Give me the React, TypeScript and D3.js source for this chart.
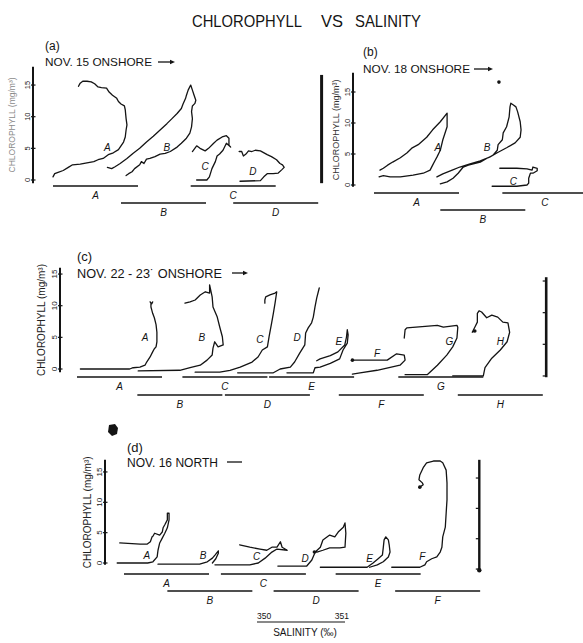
import React from "react";
import * as d3 from "d3";

type Pt = [number, number];

// Salinity is plotted in units of the 350–351 scale bar; every profile's
// range bar spans one unit. Chlorophyll is in mg m^-3.

// ---------- (a) NOV. 15 ONSHORE ----------
const aNames = ["A", "B", "C", "D"];
const aBarStart = [0, 0.8, 1.62, 2.12];
const aBarRow = [0, 1, 0, 1];
const aLabelAt: Pt[] = [[0.64, 5.1], [1.34, 5.2], [1.79, 2.1], [2.35, 1.3]];
const aCurveA: Pt[] = [[0.00,0.5],[0.02,1.0],[0.06,1.2],[0.12,1.5],[0.18,2.0],[0.23,2.4],[0.32,2.5],[0.40,2.7],[0.48,2.9],[0.53,3.2],[0.59,3.4],[0.65,4.0],[0.71,4.3],[0.77,4.8],[0.80,5.4],[0.83,6.0],[0.85,6.8],[0.86,7.9],[0.87,8.7],[0.86,9.7],[0.85,11.1],[0.84,11.7],[0.80,12.0],[0.77,12.4],[0.75,12.9],[0.70,13.4],[0.66,13.9],[0.63,14.5],[0.57,14.6],[0.53,14.7],[0.49,15.2],[0.45,15.5],[0.40,15.6],[0.35,15.6],[0.32,15.3],[0.30,14.8]];
const aCurveB: Pt[] = [[0.86,0.7],[0.89,1.0],[0.93,1.3],[0.96,1.8],[1.02,2.4],[1.04,2.9],[1.07,2.6],[1.10,3.3],[1.14,3.4],[1.20,3.7],[1.26,4.1],[1.32,4.2],[1.38,4.5],[1.46,5.2],[1.51,5.8],[1.57,6.6],[1.61,7.4],[1.63,8.4],[1.64,9.7],[1.63,10.8],[1.64,11.7],[1.67,12.1],[1.68,12.6],[1.66,13.4],[1.64,14.2],[1.62,15.0],[1.59,14.2],[1.57,13.4],[1.56,12.9],[1.53,12.0],[1.51,11.3],[1.46,10.5],[1.40,9.7],[1.34,8.9],[1.26,7.9],[1.18,6.9],[1.10,6.0],[1.02,5.0],[0.94,4.2],[0.87,3.4],[0.79,2.6],[0.73,2.1],[0.69,1.8],[0.64,2.0]];
const aCurveC: Pt[] = [[1.69,0.0],[1.81,0.0],[1.84,0.5],[1.87,1.8],[1.91,2.9],[1.93,3.8],[1.96,4.1],[2.00,4.7],[2.04,5.8],[2.09,5.2],[2.07,5.5],[2.07,6.6],[2.04,7.0],[1.99,6.8],[1.93,6.3],[1.89,5.8],[1.83,5.0],[1.79,4.6],[1.73,5.0],[1.69,5.4],[1.64,4.5]];
const aCurveD: Pt[] = [[2.20,-0.2],[2.44,-0.1],[2.48,0.5],[2.52,1.0],[2.59,1.0],[2.65,1.1],[2.69,1.6],[2.72,2.0],[2.70,2.4],[2.67,2.6],[2.63,3.2],[2.57,3.7],[2.52,4.0],[2.44,4.6],[2.38,4.7],[2.34,4.5],[2.30,4.6],[2.27,4.1],[2.24,3.8],[2.22,4.5],[2.19,4.5]];

// ---------- (b) NOV. 18 ONSHORE ----------
const bNames = ["A", "B", "C"];
const bBarStart = [0, 0.78, 1.51];
const bBarRow = [0, 1, 0];
const bLabelAt: Pt[] = [[0.75, 6.1], [1.33, 6.0], [1.64, 0.5]];
const bCurveA: Pt[] = [[0.06,1.3],[0.11,1.5],[0.19,1.3],[0.31,1.3],[0.46,1.6],[0.58,1.9],[0.66,2.4],[0.69,3.2],[0.72,4.0],[0.74,4.5],[0.78,5.6],[0.81,7.3],[0.86,9.4],[0.86,11.0],[0.86,11.6],[0.78,10.2],[0.69,8.9],[0.62,7.7],[0.52,6.5],[0.45,6.0],[0.39,5.2],[0.31,4.4],[0.22,3.7],[0.16,3.2],[0.11,2.7],[0.07,2.4]];
const bCurveB: Pt[] = [[0.78,0.2],[0.86,0.5],[0.93,1.1],[0.99,1.9],[1.05,2.9],[1.11,3.2],[1.25,3.7],[1.34,4.4],[1.40,4.8],[1.45,5.6],[1.46,6.5],[1.51,7.3],[1.52,8.4],[1.56,9.4],[1.59,11.0],[1.60,12.6],[1.61,13.2],[1.64,12.9],[1.67,12.6],[1.69,11.8],[1.72,10.2],[1.73,8.9],[1.72,7.7],[1.66,6.8],[1.56,6.0],[1.45,5.2],[1.36,4.5],[1.25,3.9],[1.13,3.4],[1.01,2.9],[0.92,2.4],[0.81,1.8],[0.74,1.3]];
const bCurveC: Pt[] = [[1.39,-0.2],[1.56,-0.2],[1.68,-0.2],[1.80,0.0],[1.82,0.3],[1.82,1.1],[1.84,1.9],[1.87,1.9],[1.92,2.3],[1.92,2.7],[1.87,2.9],[1.86,2.4],[1.80,2.6],[1.68,2.7],[1.48,2.7]];
const bDots: Pt[] = [[1.47, 16.6]];

// ---------- (c) NOV. 22 - 23 ONSHORE ----------
const cNames = ["A", "B", "C", "D", "E", "F", "G", "H"];
const cBarStart = [0, 0.71, 1.24, 1.74, 2.26, 3.08, 3.78, 4.48];
const cBarRow = [0, 1, 0, 1, 0, 1, 0, 1];
const cLabelAt: Pt[] = [[0.80,4.9],[1.47,4.9],[2.15,4.6],[2.59,4.9],[3.08,4.4],[3.53,2.5],[4.38,4.3],[4.98,4.3]];
const cCurveA: Pt[] = [[0.04,0.0],[0.62,0.0],[0.66,0.2],[0.74,0.3],[0.80,0.6],[0.82,1.1],[0.86,1.9],[0.89,2.7],[0.91,3.2],[0.93,3.5],[0.94,4.3],[0.94,4.9],[0.94,5.8],[0.93,7.0],[0.91,8.1],[0.89,8.8],[0.88,9.3],[0.87,9.8],[0.87,10.4],[0.86,10.6],[0.88,10.3],[0.89,10.6]];
const cCurveB: Pt[] = [[0.72,-0.3],[1.21,-0.2],[1.33,0.2],[1.45,0.6],[1.53,1.4],[1.59,2.2],[1.60,3.3],[1.62,4.3],[1.66,3.5],[1.72,3.8],[1.71,5.1],[1.68,6.6],[1.65,8.2],[1.60,9.8],[1.59,11.4],[1.56,13.3],[1.56,12.0],[1.51,12.2],[1.45,11.7],[1.39,10.9],[1.33,10.6],[1.27,10.4]];
const cCurveC: Pt[] = [[1.39,-0.5],[1.68,-0.5],[1.80,-0.2],[1.92,0.3],[2.06,1.1],[2.13,1.9],[2.18,3.0],[2.24,3.5],[2.26,5.1],[2.29,7.3],[2.31,8.8],[2.33,10.4],[2.35,12.2],[2.33,12.0],[2.27,11.7],[2.22,11.4],[2.21,10.9],[2.21,10.4]];
const cCurveD: Pt[] = [[1.89,-0.6],[2.31,-0.6],[2.39,0.0],[2.51,0.3],[2.56,1.1],[2.62,2.5],[2.68,3.8],[2.69,5.7],[2.72,6.5],[2.76,7.3],[2.78,8.2],[2.80,9.8],[2.82,11.2],[2.85,12.8]];
const cCurveE: Pt[] = [[2.47,-0.6],[2.78,-0.6],[2.80,0.2],[2.86,0.3],[2.98,0.9],[3.09,1.6],[3.13,3.0],[3.18,4.1],[3.19,5.4],[3.18,6.2],[3.17,5.0],[3.15,3.8],[3.07,2.7],[2.98,2.1],[2.86,1.6],[2.82,1.3]];
const cCurveF: Pt[] = [[3.24,1.4],[3.65,1.4],[3.76,2.4],[3.85,2.2],[3.86,1.4],[3.80,0.6],[3.53,-0.2],[3.33,-0.6],[3.24,-0.8]];
const cCurveG: Pt[] = [[3.86,-0.9],[4.12,-0.9],[4.24,0.6],[4.35,2.2],[4.42,3.5],[4.47,4.9],[4.48,6.6],[4.47,6.9],[4.31,6.6],[4.24,6.9],[3.88,6.5],[3.86,6.2],[3.85,4.9]];
const cCurveH: Pt[] = [[4.42,-1.1],[4.78,-1.1],[4.80,0.2],[4.88,1.7],[4.98,3.0],[5.06,4.3],[5.09,5.8],[5.07,7.3],[5.01,7.4],[4.95,8.2],[4.88,8.5],[4.82,8.1],[4.76,9.0],[4.73,9.2],[4.71,8.8],[4.71,7.4],[4.68,6.6],[4.65,5.8],[4.68,6.0]];
const cDots: Pt[] = [[3.24, 1.4], [4.68, 6.0]];

// ---------- (d) NOV. 16 NORTH ----------
const dNames = ["A", "B", "C", "D", "E", "F"];
const dBarStart = [0, 0.51, 1.14, 1.76, 2.49, 3.19];
const dBarRow = [0, 1, 0, 1, 0, 1];
const dLabelAt: Pt[] = [[0.27,1.3],[0.93,1.3],[1.56,1.0],[2.13,0.8],[2.89,0.8],[3.51,1.0]];
const dCurveA: Pt[] = [[-0.08,0.0],[0.28,0.0],[0.34,0.2],[0.39,1.0],[0.40,2.1],[0.42,3.3],[0.45,4.1],[0.48,4.9],[0.51,5.8],[0.53,7.1],[0.53,8.2],[0.51,8.2],[0.51,7.1],[0.48,6.3],[0.46,5.8],[0.45,5.1],[0.42,4.6],[0.36,4.9],[0.34,4.4],[0.33,4.3],[0.31,3.5],[0.27,3.1],[0.19,3.1],[-0.05,3.3]];
const dCurveB: Pt[] = [[0.40,-0.2],[0.89,-0.2],[0.98,0.2],[1.04,0.8],[1.07,1.3],[1.11,2.0],[1.11,1.6],[1.08,0.7],[1.04,0.0]];
const dCurveC: Pt[] = [[1.07,-0.3],[1.48,-0.3],[1.58,0.0],[1.66,0.8],[1.74,1.8],[1.80,2.3],[1.92,2.1],[1.86,2.6],[1.84,3.5],[1.80,2.6],[1.74,2.6],[1.68,2.1],[1.60,2.3],[1.48,2.6],[1.36,3.0]];
const dCurveD: Pt[] = [[1.81,-0.5],[2.15,-0.5],[2.21,0.5],[2.25,1.8],[2.31,2.6],[2.34,3.8],[2.42,4.6],[2.48,4.3],[2.52,5.1],[2.58,5.9],[2.60,6.6],[2.61,4.9],[2.60,2.6],[2.54,2.5],[2.42,2.5],[2.34,2.1],[2.27,1.8],[2.24,1.8]];
const dCurveE: Pt[] = [[2.31,-0.7],[2.86,-0.7],[2.93,0.0],[2.99,0.7],[3.04,1.3],[3.05,2.5],[3.06,3.8],[3.08,4.3],[3.11,3.8],[3.12,3.0],[3.13,1.8],[3.11,1.0],[3.05,0.2],[2.98,-0.3],[2.89,-0.7]];
const dCurveF: Pt[] = [[3.15,-0.7],[3.48,-0.7],[3.54,-0.3],[3.56,0.2],[3.62,0.7],[3.68,1.0],[3.72,1.8],[3.74,2.6],[3.75,4.3],[3.78,5.9],[3.79,8.2],[3.80,10.4],[3.80,13.2],[3.79,15.3],[3.75,16.5],[3.72,16.8],[3.64,16.8],[3.56,16.5],[3.52,15.7],[3.48,14.5],[3.47,13.7],[3.51,13.2],[3.52,12.9],[3.48,12.5]];
const dDots: Pt[] = [[3.48, 12.5], [2.24, 1.8]];

const yTicks = [0, 5, 10, 15];
const scaleLabels = ["350", "351"];

// ---------- layout ----------
const W = 583;
const H = 643;
const UNIT_PX = 85;
const INK = "#141414";
const FONT = "'Liberation Sans', Arial, sans-serif";

type Layout = {
  x0: number; y0: number; ppu: number;
  axisX: number; axisLo: number; axisHi: number;
  rows: number[];
  titleX: number; titleSize: number; titleColor: string;
  tickSize: number;
  sideBar?: { s: number; lo: number; hi: number; ticks: number[]; dot: boolean; w: number };
};

const layA: Layout = { x0: 53, y0: 180, ppu: 6.33, axisX: 33, axisLo: -0.5, axisHi: 17.9, rows: [6, 23], titleX: 12, titleSize: 8.5, titleColor: "#8a8a8a", tickSize: 7.5,
  sideBar: { s: 3.16, lo: -0.5, hi: 16.6, ticks: [], dot: false, w: 3 } };
const layB: Layout = { x0: 374, y0: 185, ppu: 6.2, axisX: 353, axisLo: -0.3, axisHi: 18.1, rows: [8, 25], titleX: 336, titleSize: 9, titleColor: "#333", tickSize: 7.5 };
const layC: Layout = { x0: 77, y0: 369, ppu: 6.33, axisX: 60, axisLo: -0.5, axisHi: 16.0, rows: [8, 26], titleX: 41, titleSize: 10, titleColor: "#222", tickSize: 8,
  sideBar: { s: 5.52, lo: -1.3, hi: 14.5, ticks: [-1.1, 3.9, 8.9, 13.9], dot: false, w: 2.6 } };
const layD: Layout = { x0: 124, y0: 563, ppu: 6.07, axisX: 105, axisLo: -0.3, axisHi: 17.0, rows: [11, 28], titleX: 87, titleSize: 10, titleColor: "#222", tickSize: 8,
  sideBar: { s: 4.18, lo: -1.2, hi: 17.0, ticks: [-1.0, 4.0, 9.0, 14.0], dot: true, w: 2.4 } };

type PanelProps = {
  lay: Layout; names: string[]; barStart: number[]; barRow: number[];
  labelAt: Pt[]; curves: Pt[][]; dots?: Pt[];
};

function Panel({ lay, names, barStart, barRow, labelAt, curves, dots = [] }: PanelProps) {
  const x = d3.scaleLinear().domain([0, 1]).range([lay.x0, lay.x0 + UNIT_PX]);
  const y = d3.scaleLinear().domain([0, 15]).range([lay.y0, lay.y0 - 15 * lay.ppu]);
  const line = d3.line<Pt>().x((d) => x(d[0])).y((d) => y(d[1]));
  const yMid = (y(lay.axisLo) + y(lay.axisHi)) / 2;
  const sb = lay.sideBar;
  return (
    <g>
      {/* chlorophyll axis */}
      <line x1={lay.axisX} x2={lay.axisX} y1={y(lay.axisLo)} y2={y(lay.axisHi)} stroke={INK} strokeWidth={2} />
      {yTicks.map((t) => (
        <g key={t}>
          <line x1={lay.axisX - 2} x2={lay.axisX + 2.5} y1={y(t)} y2={y(t)} stroke={INK} strokeWidth={1.2} />
          <text transform={`translate(${lay.axisX - 3},${y(t)}) rotate(-90)`} textAnchor="middle"
            fontSize={lay.tickSize} fontFamily={FONT} fill={INK}>{t}</text>
        </g>
      ))}
      <text transform={`translate(${lay.titleX},${yMid}) rotate(-90)`} textAnchor="middle" dominantBaseline="central"
        fontSize={lay.titleSize} fontFamily={FONT} fill={lay.titleColor}>CHLOROPHYLL (mg/m³)</text>

      {/* profiles */}
      {curves.map((c, i) => (
        <path key={"c" + i} d={line(c) || ""} fill="none" stroke={INK} strokeWidth={1.3} strokeLinejoin="round" strokeLinecap="round" />
      ))}
      {dots.map((d, i) => (
        <circle key={"d" + i} cx={x(d[0])} cy={y(d[1])} r={1.8} fill={INK} />
      ))}
      {names.map((n, i) => (
        <text key={"l" + i} x={x(labelAt[i][0])} y={y(labelAt[i][1])} textAnchor="middle" dominantBaseline="central"
          fontSize={10} fontStyle="italic" fontFamily={FONT} fill={INK}>{n}</text>
      ))}

      {/* salinity range bars */}
      {names.map((n, i) => {
        const yy = lay.y0 + lay.rows[barRow[i]];
        return (
          <g key={"b" + i}>
            <line x1={x(barStart[i])} x2={x(barStart[i] + 1)} y1={yy} y2={yy} stroke={INK} strokeWidth={1.3} />
            <text x={x(barStart[i] + 0.5)} y={yy + 9} textAnchor="middle" dominantBaseline="central"
              fontSize={10} fontStyle="italic" fontFamily={FONT} fill={INK}>{n}</text>
          </g>
        );
      })}

      {/* chlorophyll scale bar */}
      {sb && (
        <g>
          <line x1={x(sb.s)} x2={x(sb.s)} y1={y(sb.lo)} y2={y(sb.hi)} stroke={INK} strokeWidth={sb.w} />
          {sb.ticks.map((t) => (
            <line key={t} x1={x(sb.s) - 3.5} x2={x(sb.s)} y1={y(t)} y2={y(t)} stroke={INK} strokeWidth={1.2} />
          ))}
          {sb.dot && <circle cx={x(sb.s)} cy={y(sb.lo)} r={2.2} fill={INK} />}
        </g>
      )}
    </g>
  );
}

function Arrow({ x1, x2, y, head = true }: { x1: number; x2: number; y: number; head?: boolean }) {
  return (
    <g>
      <line x1={x1} x2={head ? x2 - 3 : x2} y1={y} y2={y} stroke={INK} strokeWidth={1.3} />
      {head && <path d={`M${x2},${y} L${x2 - 5},${y - 2.2} L${x2 - 5},${y + 2.2} Z`} fill={INK} />}
    </g>
  );
}

function Header({ tag, text, x, yTag, yText, tagSize, textSize, textLen, arrow }:
  { tag: string; text: string; x: number; yTag: number; yText: number; tagSize: number; textSize: number; textLen: number;
    arrow: { x1: number; x2: number; y: number; head: boolean } }) {
  return (
    <g fontFamily={FONT} fill={INK}>
      <text x={x} y={yTag} fontSize={tagSize}>{tag}</text>
      <text x={x} y={yText} fontSize={textSize} textLength={textLen} lengthAdjust="spacingAndGlyphs">{text}</text>
      <Arrow {...arrow} />
    </g>
  );
}

export default function App() {
  const sx = d3.scaleLinear().domain([0, 1]).range([257, 257 + UNIT_PX + 3]);
  return (
    <svg width={W} height={H} viewBox={`0 0 ${W} ${H}`}
      style={{ position: "absolute", left: 0, top: 0, background: "#fff" }}>
      <rect width={W} height={H} fill="#fff" />

      {/* title */}
      <g fontFamily={FONT} fill={INK} fontSize={17}>
        <text x={192} y={27} textLength={110} lengthAdjust="spacingAndGlyphs">CHLOROPHYLL</text>
        <text x={321} y={27} textLength={22} lengthAdjust="spacingAndGlyphs">VS</text>
        <text x={355} y={27} textLength={66} lengthAdjust="spacingAndGlyphs">SALINITY</text>
      </g>

      <Header tag="(a)" text="NOV. 15 ONSHORE" x={45} yTag={50} yText={66} tagSize={12} textSize={11} textLen={107}
        arrow={{ x1: 158, x2: 175, y: 62, head: true }} />
      <Header tag="(b)" text="NOV. 18 ONSHORE" x={363} yTag={56} yText={73} tagSize={12} textSize={11} textLen={107}
        arrow={{ x1: 474, x2: 493, y: 69, head: true }} />
      <Header tag="(c)" text="NOV. 22 - 23˙ ONSHORE" x={77} yTag={261} yText={278} tagSize={13} textSize={12.5} textLen={145}
        arrow={{ x1: 232, x2: 248, y: 273, head: true }} />
      <Header tag="(d)" text="NOV. 16 NORTH" x={127} yTag={452} yText={467} tagSize={13} textSize={12} textLen={91}
        arrow={{ x1: 227, x2: 242, y: 462, head: false }} />

      <Panel lay={layA} names={aNames} barStart={aBarStart} barRow={aBarRow} labelAt={aLabelAt}
        curves={[aCurveA, aCurveB, aCurveC, aCurveD]} />
      <Panel lay={layB} names={bNames} barStart={bBarStart} barRow={bBarRow} labelAt={bLabelAt}
        curves={[bCurveA, bCurveB, bCurveC]} dots={bDots} />
      <Panel lay={layC} names={cNames} barStart={cBarStart} barRow={cBarRow} labelAt={cLabelAt}
        curves={[cCurveA, cCurveB, cCurveC, cCurveD, cCurveE, cCurveF, cCurveG, cCurveH]} dots={cDots} />
      <Panel lay={layD} names={dNames} barStart={dBarStart} barRow={dBarRow} labelAt={dLabelAt}
        curves={[dCurveA, dCurveB, dCurveC, dCurveD, dCurveE, dCurveF]} dots={dDots} />

      {/* ink blot beside panel (d) */}
      <path d="M109,425 L115,424 L118,428 L117,434 L112,436 L108,432 Z" fill={INK} />

      {/* salinity scale */}
      <g fontFamily={FONT} fill={INK}>
        <text x={sx(0)} y={619} fontSize={8.5}>{scaleLabels[0]}</text>
        <text x={sx(1) + 4} y={619} fontSize={8.5} textAnchor="end">{scaleLabels[1]}</text>
        <line x1={sx(0)} x2={sx(1)} y1={622} y2={622} stroke={INK} strokeWidth={1.1} />
        <text x={(sx(0) + sx(1)) / 2 + 4} y={636} fontSize={10} textAnchor="middle">SALINITY (‰)</text>
      </g>
    </svg>
  );
}
